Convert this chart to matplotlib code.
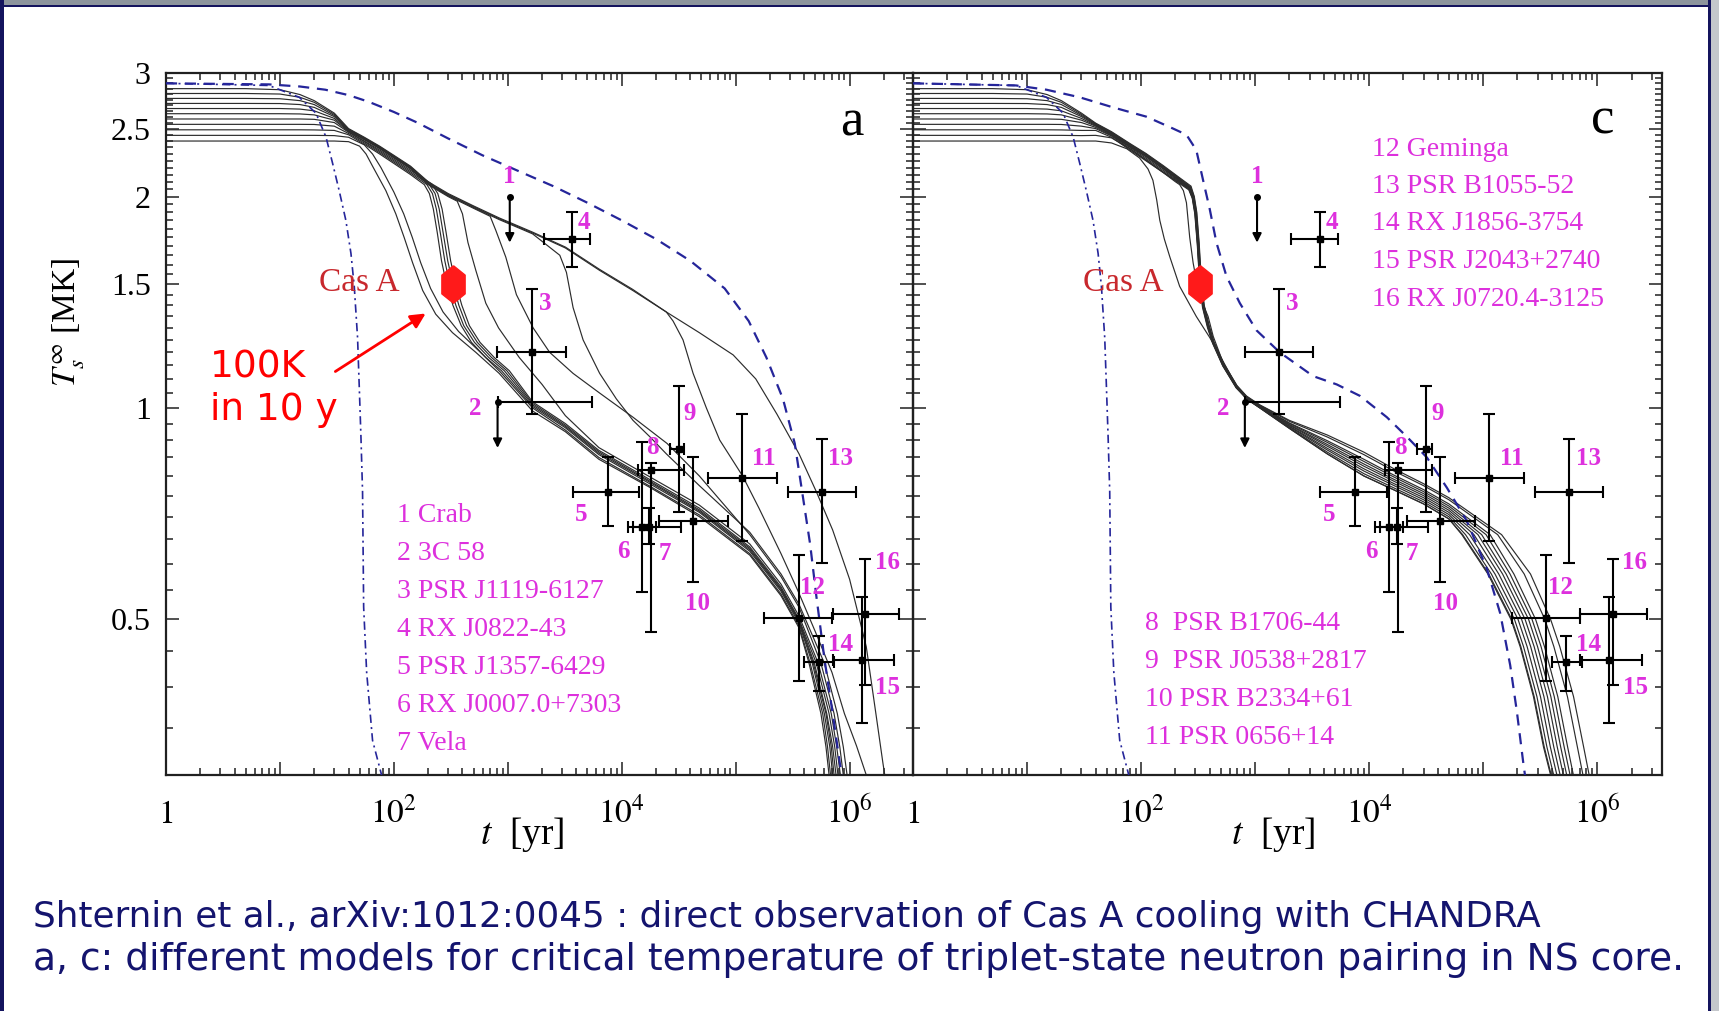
import matplotlib
matplotlib.use('Agg')
import matplotlib.pyplot as plt
from matplotlib.ticker import LogLocator, FixedLocator, FixedFormatter, NullFormatter
from matplotlib.patches import Rectangle, FancyArrowPatch

W, H = 1719, 1011

plt.rcParams['font.family'] = ['Liberation Serif', 'DejaVu Serif']
plt.rcParams['mathtext.fontset'] = 'stix'

# ---------------- observed sources: age [yr], T_s^inf [MK]
src_name = ['Crab', '3C 58', 'PSR J1119-6127', 'RX J0822-43', 'PSR J1357-6429',
            'RX J0007.0+7303', 'Vela', 'PSR B1706-44', 'PSR J0538+2817',
            'PSR B2334+61', 'PSR 0656+14', 'Geminga', 'PSR B1055-52',
            'RX J1856-3754', 'PSR J2043+2740', 'RX J0720.4-3125']
src_t = [1040, 813, 1634, 3690, 7500, 15000, 17500, 18000, 31600, 42000,
         113500, 357000, 568000, 535000, 1280000, 1370000]
src_T = [2.0, 1.02, 1.20, 1.74, 0.76, 0.677, 0.677, 0.816, 0.873, 0.691,
         0.795, 0.502, 0.759, 0.434, 0.438, 0.508]
src_tlo = [1040, 813, 811, 2070, 3700, 11300, 12500, 13800, 26500, 21400,
           56800, 178600, 285800, 400000, 710000, 710000]
src_thi = [1040, 5530, 3210, 5310, 14200, 20000, 33000, 35500, 35500, 85100,
           229000, 700000, 1135000, 735000, 2470000, 2730000]
src_Tlo = [1.72, 0.877, 0.98, 1.59, 0.679, 0.547, 0.64, 0.48, 0.711, 0.565,
           0.646, 0.408, 0.602, 0.395, 0.356, 0.403]
src_Thi = [2.0, 1.02, 1.477, 1.90, 0.852, 0.895, 0.72, 0.834, 1.074, 0.852,
           0.979, 0.617, 0.902, 0.474, 0.538, 0.61]
src_uplim = [1, 1, 0, 0, 0, 0, 0, 0, 0, 0, 0, 0, 0, 0, 0, 0]

casA_t, casA_T = 330, 1.50

# ---------------- cooling curves: early (isothermal) part, common to both panels
flat_t = [1, 5, 10, 15, 20, 30]
flat_T = [[2.400, 2.400, 2.400, 2.400, 2.400, 2.400],
          [2.445, 2.445, 2.445, 2.445, 2.445, 2.443],
          [2.490, 2.490, 2.490, 2.490, 2.489, 2.485],
          [2.535, 2.535, 2.535, 2.535, 2.534, 2.520],
          [2.580, 2.580, 2.580, 2.580, 2.577, 2.550],
          [2.625, 2.625, 2.625, 2.623, 2.615, 2.570],
          [2.670, 2.670, 2.670, 2.665, 2.650, 2.585],
          [2.715, 2.715, 2.714, 2.705, 2.680, 2.600],
          [2.760, 2.760, 2.757, 2.740, 2.705, 2.610],
          [2.805, 2.805, 2.800, 2.770, 2.725, 2.620],
          [2.850, 2.850, 2.840, 2.795, 2.740, 2.630]]

# panel a, later evolution of each curve
a_t = [[40, 50, 57, 65, 85, 104, 123, 146, 179, 233, 327, 524, 840, 1650, 3200, 6300, 17800, 48000, 133000, 250000, 360000, 440000, 560000, 620000, 660000],
       [40, 55, 65, 77, 100, 122, 145, 172, 210, 270, 370, 560, 860, 1650, 3200, 6300, 17800, 48000, 133000, 250000, 360000, 450000, 580000, 640000, 680000],
       [40, 55, 75, 100, 140, 185, 205, 222, 240, 262, 290, 330, 390, 480, 640, 880, 1650, 3200, 6300, 17800, 48000, 133000, 250000, 360000, 470000, 600000, 670000, 710000],
       [40, 55, 75, 100, 140, 195, 218, 236, 255, 280, 310, 350, 410, 510, 680, 930, 1650, 3200, 6300, 17800, 48000, 133000, 250000, 360000, 480000, 620000, 690000, 730000],
       [40, 55, 75, 100, 140, 205, 230, 250, 270, 297, 330, 372, 435, 540, 720, 980, 1650, 3200, 6300, 17800, 48000, 133000, 250000, 360000, 490000, 630000, 710000, 760000],
       [40, 55, 75, 100, 140, 215, 243, 265, 287, 315, 350, 395, 460, 570, 760, 1030, 1650, 3200, 6300, 17800, 48000, 133000, 250000, 360000, 510000, 660000, 740000, 790000],
       [40, 55, 75, 100, 140, 200, 300, 360, 400, 447, 524, 641, 830, 1260, 2000, 3200, 6300, 17800, 48000, 133000, 250000, 360000, 530000, 690000, 770000, 830000],
       [40, 55, 75, 100, 140, 200, 300, 500, 700, 785, 960, 1190, 1670, 2330, 3740, 6400, 12560, 25000, 48000, 133000, 250000, 360000, 560000, 730000, 820000, 880000],
       [40, 55, 75, 100, 140, 200, 300, 500, 840, 1650, 2860, 3270, 3740, 4580, 6400, 8970, 12560, 17620, 24660, 48000, 133000, 250000, 360000, 600000, 780000, 880000, 950000],
       [40, 55, 75, 100, 140, 200, 300, 500, 840, 1650, 3200, 6400, 12500, 24600, 28200, 34500, 42300, 55300, 72400, 95000, 115000, 160000, 250000, 350000, 500000, 700000, 900000, 1150000, 1400000, 1500000],
       [40, 55, 75, 100, 140, 200, 300, 500, 840, 1650, 3200, 6400, 12500, 24600, 48000, 95000, 150000, 230000, 360000, 510000, 710000, 1000000, 1400000, 1700000, 1960000, 2100000]]
a_T = [[2.395, 2.36, 2.30, 2.21, 2.04, 1.89, 1.75, 1.61, 1.47, 1.36, 1.28, 1.20, 1.12, 0.99, 0.925, 0.845, 0.77, 0.70, 0.617, 0.54, 0.486, 0.433, 0.367, 0.329, 0.30],
       [2.43, 2.37, 2.30, 2.20, 2.03, 1.89, 1.75, 1.61, 1.48, 1.37, 1.285, 1.205, 1.125, 1.0, 0.93, 0.85, 0.773, 0.704, 0.62, 0.543, 0.489, 0.433, 0.367, 0.329, 0.30],
       [2.45, 2.375, 2.30, 2.23, 2.15, 2.08, 2.02, 1.92, 1.78, 1.62, 1.50, 1.40, 1.31, 1.24, 1.18, 1.13, 1.005, 0.937, 0.858, 0.779, 0.71, 0.625, 0.548, 0.493, 0.433, 0.367, 0.329, 0.30],
       [2.46, 2.385, 2.31, 2.24, 2.16, 2.08, 2.02, 1.92, 1.78, 1.62, 1.50, 1.40, 1.31, 1.24, 1.18, 1.13, 1.01, 0.941, 0.862, 0.783, 0.713, 0.628, 0.551, 0.496, 0.433, 0.367, 0.329, 0.30],
       [2.47, 2.395, 2.32, 2.25, 2.17, 2.08, 2.02, 1.92, 1.78, 1.62, 1.50, 1.40, 1.31, 1.24, 1.18, 1.13, 1.015, 0.945, 0.866, 0.786, 0.716, 0.631, 0.553, 0.498, 0.433, 0.367, 0.329, 0.30],
       [2.475, 2.40, 2.33, 2.26, 2.18, 2.085, 2.02, 1.92, 1.78, 1.62, 1.50, 1.40, 1.31, 1.24, 1.18, 1.13, 1.02, 0.95, 0.87, 0.79, 0.72, 0.634, 0.556, 0.50, 0.433, 0.367, 0.329, 0.30],
       [2.48, 2.41, 2.34, 2.27, 2.19, 2.08, 2.00, 1.97, 1.89, 1.72, 1.57, 1.41, 1.30, 1.18, 1.08, 0.975, 0.878, 0.797, 0.727, 0.64, 0.561, 0.505, 0.433, 0.367, 0.329, 0.30],
       [2.485, 2.415, 2.345, 2.275, 2.195, 2.085, 2.005, 1.925, 1.875, 1.79, 1.64, 1.45, 1.30, 1.20, 1.12, 1.05, 0.97, 0.89, 0.80, 0.66, 0.575, 0.52, 0.433, 0.367, 0.329, 0.30],
       [2.49, 2.42, 2.35, 2.28, 2.20, 2.09, 2.01, 1.93, 1.855, 1.77, 1.65, 1.56, 1.39, 1.25, 1.12, 1.03, 0.96, 0.91, 0.86, 0.775, 0.665, 0.58, 0.525, 0.433, 0.367, 0.329, 0.30],
       [2.495, 2.425, 2.355, 2.285, 2.205, 2.095, 2.015, 1.935, 1.86, 1.775, 1.69, 1.57, 1.47, 1.37, 1.33, 1.25, 1.12, 1.00, 0.90, 0.84, 0.80, 0.72, 0.62, 0.55, 0.48, 0.42, 0.367, 0.33, 0.30, 0.29],
       [2.50, 2.43, 2.36, 2.29, 2.21, 2.10, 2.02, 1.94, 1.865, 1.78, 1.695, 1.575, 1.475, 1.37, 1.28, 1.19, 1.10, 0.98, 0.86, 0.76, 0.67, 0.57, 0.457, 0.367, 0.312, 0.29]]

# panel c: evolution up to ~840 yr
c_t = [[40, 55, 75, 97, 115, 127, 137, 146, 160, 179, 218, 305, 400, 524, 686, 840],
       [40, 55, 80, 110, 156, 200, 218, 235, 250, 267, 286, 310, 340, 387, 429, 524, 686, 840],
       [40, 55, 80, 110, 156, 220, 262, 281, 296, 311, 326, 346, 383, 425, 520, 682, 840],
       [40, 55, 80, 110, 156, 220, 263, 282, 297, 312, 327, 347, 384, 426, 521, 683, 840],
       [40, 55, 80, 110, 156, 220, 264, 283, 298, 313, 328, 348, 385, 427, 522, 684, 840],
       [40, 55, 80, 110, 156, 220, 265, 284, 299, 314, 329, 349, 386, 428, 523, 685, 840],
       [40, 55, 80, 110, 156, 220, 266, 285, 300, 315, 330, 350, 387, 429, 524, 686, 840],
       [40, 55, 80, 110, 156, 220, 268, 287, 302, 317, 332, 352, 389, 431, 526, 688, 840],
       [40, 55, 80, 110, 156, 220, 270, 289, 304, 319, 334, 354, 391, 433, 528, 690, 840],
       [40, 55, 80, 110, 156, 220, 272, 291, 306, 321, 336, 356, 393, 435, 530, 692, 840],
       [40, 55, 80, 110, 156, 220, 274, 293, 308, 323, 338, 358, 395, 437, 532, 694, 840]]
c_T = [[2.40, 2.385, 2.34, 2.27, 2.19, 2.11, 1.98, 1.85, 1.74, 1.64, 1.49, 1.35, 1.26, 1.165, 1.075, 1.03],
       [2.445, 2.425, 2.34, 2.255, 2.165, 2.10, 2.08, 2.04, 1.96, 1.75, 1.61, 1.50, 1.42, 1.35, 1.265, 1.16, 1.072, 1.03],
       [2.485, 2.43, 2.33, 2.25, 2.165, 2.085, 2.045, 1.99, 1.89, 1.71, 1.51, 1.39, 1.30, 1.235, 1.148, 1.068, 1.031],
       [2.50, 2.44, 2.34, 2.26, 2.17, 2.09, 2.05, 1.99, 1.895, 1.715, 1.515, 1.395, 1.305, 1.237, 1.149, 1.069, 1.032],
       [2.51, 2.445, 2.35, 2.27, 2.18, 2.095, 2.052, 1.995, 1.897, 1.717, 1.517, 1.397, 1.307, 1.238, 1.15, 1.07, 1.033],
       [2.52, 2.45, 2.355, 2.28, 2.19, 2.10, 2.055, 1.997, 1.90, 1.72, 1.52, 1.40, 1.31, 1.24, 1.151, 1.071, 1.034],
       [2.525, 2.455, 2.36, 2.285, 2.195, 2.105, 2.057, 2.0, 1.90, 1.72, 1.52, 1.40, 1.31, 1.24, 1.152, 1.072, 1.035],
       [2.53, 2.46, 2.365, 2.29, 2.20, 2.11, 2.06, 2.0, 1.90, 1.72, 1.52, 1.40, 1.31, 1.24, 1.153, 1.073, 1.036],
       [2.535, 2.465, 2.37, 2.295, 2.205, 2.115, 2.062, 2.0, 1.90, 1.72, 1.52, 1.40, 1.31, 1.24, 1.154, 1.074, 1.037],
       [2.54, 2.47, 2.375, 2.30, 2.21, 2.12, 2.065, 2.0, 1.90, 1.72, 1.52, 1.40, 1.31, 1.24, 1.155, 1.075, 1.038],
       [2.545, 2.475, 2.38, 2.305, 2.215, 2.125, 2.07, 2.0, 1.90, 1.72, 1.52, 1.40, 1.31, 1.24, 1.156, 1.076, 1.04]]
# panel c: neutrino-cooling band
c_band_t = [1100, 2000, 4300, 9000, 16300, 30000, 50000]
c_band_T = [[1.00, 0.935, 0.86, 0.80, 0.765, 0.73, 0.695],
            [1.00, 0.935, 0.86, 0.80, 0.765, 0.73, 0.695],
            [1.001, 0.937, 0.865, 0.806, 0.77, 0.735, 0.70],
            [1.002, 0.94, 0.871, 0.813, 0.776, 0.74, 0.705],
            [1.003, 0.942, 0.876, 0.819, 0.781, 0.745, 0.71],
            [1.004, 0.945, 0.882, 0.826, 0.787, 0.75, 0.715],
            [1.005, 0.947, 0.887, 0.832, 0.792, 0.755, 0.72],
            [1.006, 0.95, 0.893, 0.839, 0.798, 0.76, 0.725],
            [1.007, 0.952, 0.898, 0.845, 0.803, 0.765, 0.73],
            [1.009, 0.957, 0.909, 0.858, 0.814, 0.775, 0.74],
            [1.01, 0.96, 0.915, 0.865, 0.82, 0.78, 0.745]]
# panel c: photon-cooling tails (age at which each curve reaches c_tail_T)
c_tail_T = [0.66, 0.58, 0.50, 0.457, 0.388, 0.329, 0.30]
c_tail_t = [[65000, 110000, 175000, 211000, 276000, 338000, 390000],
            [66000, 112000, 178000, 214000, 280000, 343000, 395000],
            [70000, 118000, 188000, 226000, 296000, 362000, 415000],
            [76000, 127000, 202000, 243000, 318000, 388000, 443000],
            [83000, 137000, 217000, 261000, 341000, 416000, 473000],
            [90000, 148000, 233000, 280000, 366000, 446000, 505000],
            [97000, 159000, 250000, 300000, 392000, 478000, 540000],
            [106000, 172000, 268000, 322000, 420000, 513000, 578000],
            [115000, 186000, 288000, 345000, 451000, 550000, 618000],
            [134000, 229000, 347000, 417000, 548000, 670000, 750000],
            [145000, 260000, 390000, 470000, 620000, 760000, 850000]]

# blue reference curves
dd_t = [1, 8, 14.8, 20.7, 25.4, 29, 33.1, 37.9, 42, 44.9, 48, 49.7, 51.4, 53.1, 54.3, 57.7, 65, 78]
dd_T = [2.90, 2.88, 2.77, 2.63, 2.43, 2.23, 2.04, 1.85, 1.66, 1.49, 1.26, 1.07, 0.91, 0.76, 0.52, 0.42, 0.336, 0.30]
a_dash_t = [1, 8, 15, 25, 40, 60, 100, 160, 300, 600, 1200, 2500, 5000, 10000, 20000, 40000,
            80000, 130000, 186000, 260000, 330000, 450000, 510000, 600000, 710000, 820000, 870000]
a_dash_T = [2.90, 2.89, 2.87, 2.84, 2.79, 2.73, 2.64, 2.55, 2.42, 2.29, 2.18, 2.07, 1.96, 1.85, 1.74, 1.62,
            1.48, 1.33, 1.18, 1.03, 0.89, 0.64, 0.54, 0.44, 0.367, 0.312, 0.295]
c_dash_t = [1, 8, 14.8, 29, 56.8, 111, 191, 250, 305, 350, 400, 458, 561, 735, 1028, 1644, 3228, 5210,
            8340, 14300, 21400, 32100, 48000, 72000, 107700, 141000, 172600, 197200, 226000, 236000]
c_dash_T = [2.90, 2.88, 2.84, 2.77, 2.68, 2.60, 2.50, 2.45, 2.33, 2.11, 1.92, 1.72, 1.54, 1.41, 1.29, 1.20, 1.11, 1.08,
            1.04, 0.97, 0.91, 0.85, 0.77, 0.69, 0.59, 0.51, 0.43, 0.37, 0.31, 0.295]

# axis ticks
ytick_major = [0.5, 1, 1.5, 2, 2.5, 3]
ytick_lab = ['0.5', '1', '1.5', '2', '2.5', '3']
ytick_minor = [0.30, 0.35, 0.40, 0.45, 0.55, 0.60, 0.65, 0.70, 0.75, 0.80, 0.85, 0.90, 0.95,
               1.05, 1.10, 1.15, 1.20, 1.25, 1.30, 1.35, 1.40, 1.45, 1.55, 1.60, 1.65, 1.70,
               1.75, 1.80, 1.85, 1.90, 1.95, 2.05, 2.10, 2.15, 2.20, 2.25, 2.30, 2.35, 2.40,
               2.45, 2.55, 2.60, 2.65, 2.70, 2.75, 2.80, 2.85, 2.90, 2.95]
xlab_pos = [1, 1e2, 1e4, 1e6]
xlab_txt = [r'$1$', r'$10^2$', r'$10^4$', r'$10^6$']

# label offsets for the source numbers, pixels (right, down)
num_off = {1: (0, -20), 2: (-22, 7), 3: (13, -49), 4: (12, -17), 5: (-26, 23),
           6: (-18, 25), 7: (15, 27), 8: (2, -22), 9: (11, -36), 10: (5, 83),
           11: (22, -19), 12: (14, -31), 13: (19, -34), 14: (22, -18),
           15: (26, 28), 16: (22, -52)}

MAG = '#dd30dd'
CURVE = '#2c2c2c'
BLUE = '#25259a'

fig = plt.figure(figsize=(W / 100, H / 100), dpi=100)
fig.patch.set_facecolor('white')


def box(x0, y0, x1, y1, color):
    # rectangle given in slide pixels measured from the top-left corner
    fig.add_artist(Rectangle((x0 / W, 1 - y1 / H), (x1 - x0) / W, (y1 - y0) / H,
                             transform=fig.transFigure, color=color, lw=0, zorder=0))


def ftext(x, y, s, **kw):
    return fig.text(x / W, 1 - y / H, s, **kw)


# slide frame
box(0, 0, W, 5, '#8d959d')
box(0, 5, W, 7, '#14145e')
box(0, 0, 4, H, '#14145e')
box(1708, 0, 1711, H, '#14145e')
box(1711, 0, W, H, '#c4c7cb')

axL = fig.add_axes([166 / W, 1 - 775 / H, 747 / W, 702 / H])
axR = fig.add_axes([913 / W, 1 - 775 / H, 749 / W, 702 / H])


def setup(ax, xmax, ylabels):
    ax.set_xscale('log')
    ax.set_yscale('log')
    ax.set_xlim(1, xmax)
    ax.set_ylim(0.3, 3)
    ax.patch.set_alpha(0)
    ax.xaxis.set_major_locator(LogLocator(base=10, numticks=20))
    ax.xaxis.set_minor_locator(LogLocator(base=10, subs=range(2, 10), numticks=20))
    ax.xaxis.set_major_formatter(NullFormatter())
    ax.xaxis.set_minor_formatter(NullFormatter())
    ax.yaxis.set_major_locator(FixedLocator(ytick_major))
    ax.yaxis.set_minor_locator(FixedLocator(ytick_minor))
    ax.yaxis.set_minor_formatter(NullFormatter())
    if ylabels:
        ax.yaxis.set_major_formatter(FixedFormatter(ytick_lab))
    else:
        ax.yaxis.set_major_formatter(NullFormatter())
    ax.tick_params(which='both', direction='in', top=True, right=True,
                   width=1.1, color='#202020')
    ax.tick_params(which='major', length=9.5, labelsize=23, pad=11)
    ax.tick_params(which='minor', length=5)
    for s in ax.spines.values():
        s.set_linewidth(1.6)
        s.set_color('#202020')
    for xp, lab in zip(xlab_pos, xlab_txt):
        ax.text(xp, -0.068, lab, transform=ax.get_xaxis_transform(),
                ha='center', va='baseline', fontsize=24)


def draw_sources(ax):
    for i in range(len(src_t)):
        t, T = src_t[i], src_T[i]
        if src_uplim[i]:
            ax.plot([t], [T], 'o', ms=4, color='k', zorder=5)
            ax.annotate('', xy=(t, src_Tlo[i]), xytext=(t, T),
                        arrowprops=dict(arrowstyle='-|>', color='k', lw=1.5,
                                        mutation_scale=13, shrinkA=0, shrinkB=0),
                        zorder=5)
            if src_thi[i] > t:
                ax.errorbar([t], [T], xerr=[[0], [src_thi[i] - t]], fmt='none',
                            ecolor='k', elinewidth=1.5, capsize=4, capthick=1.5, zorder=5)
        else:
            ax.errorbar([t], [T], xerr=[[t - src_tlo[i]], [src_thi[i] - t]],
                        yerr=[[T - src_Tlo[i]], [src_Thi[i] - T]], fmt='s', ms=4,
                        color='k', ecolor='k', elinewidth=1.5, capsize=4,
                        capthick=1.5, zorder=5)
        dx, dy = num_off[i + 1]
        ax.annotate(str(i + 1), (t, T), xytext=(dx, -dy), textcoords='offset pixels',
                    ha='center', va='center', fontsize=18, fontweight='bold',
                    color=MAG, zorder=6)


def draw_casA(ax):
    hexa = [(0, 1), (0.62, 0.5), (0.62, -0.5), (0, -1), (-0.62, -0.5), (-0.62, 0.5), (0, 1)]
    ax.plot([casA_t], [casA_T], marker=hexa, ms=27, color='#ff1a1a', mec='#ff1a1a',
            ls='none', zorder=7)


setup(axL, 3.6e6, True)
setup(axR, 3.7e6, False)

# panel a
for k in range(len(flat_T)):
    axL.plot(flat_t + a_t[k], flat_T[k] + a_T[k], color=CURVE, lw=0.85, zorder=2)
axL.plot(a_dash_t, a_dash_T, color=BLUE, lw=1.6, dashes=(5, 3.5), zorder=3)
axL.plot(dd_t, dd_T, color=BLUE, lw=1.2, dashes=(5, 2.5, 1.2, 2.5), zorder=3)
draw_sources(axL)
draw_casA(axL)

# panel c
for k in range(len(flat_T)):
    tt = flat_t + c_t[k] + c_band_t + c_tail_t[k]
    TT = flat_T[k] + c_T[k] + c_band_T[k] + c_tail_T
    axR.plot(tt, TT, color=CURVE, lw=0.85, zorder=2)
axR.plot(c_dash_t, c_dash_T, color=BLUE, lw=1.6, dashes=(5, 3.5), zorder=3)
axR.plot(dd_t, dd_T, color=BLUE, lw=1.2, dashes=(5, 2.5, 1.2, 2.5), zorder=3)
draw_sources(axR)
draw_casA(axR)

# axis titles
ftext(522, 835, r'$t$  [yr]', fontsize=27, ha='center', va='center')
ftext(1273, 835, r'$t$  [yr]', fontsize=27, ha='center', va='center')
ftext(68, 322, r'$T_s^{\infty}$ [MK]', fontsize=24, rotation=90, ha='center', va='center')

# panel letters
ftext(852, 123, 'a', fontsize=38, ha='center', va='center')
ftext(1603, 120, 'c', fontsize=38, ha='center', va='center')

# Cas A labels
ftext(359, 283, 'Cas A', fontsize=24, color='#c8282d', ha='center', va='center')
ftext(1123, 283, 'Cas A', fontsize=24, color='#c8282d', ha='center', va='center')

# source lists
for i in range(7):
    ftext(397, 515 + 38.1 * i, '%d %s' % (i + 1, src_name[i]), fontsize=20,
          color=MAG, ha='left', va='center')
for j, i in enumerate(range(7, 11)):
    sep = '  ' if i < 9 else ' '
    ftext(1145, 623 + 38 * j, '%d%s%s' % (i + 1, sep, src_name[i]), fontsize=20,
          color=MAG, ha='left', va='center')
for j, i in enumerate(range(11, 16)):
    ftext(1372, 149 + 37.5 * j, '%d %s' % (i + 1, src_name[i]), fontsize=20,
          color=MAG, ha='left', va='center')

# "100K in 10 y" note with arrow
ftext(210, 377, '100K', fontsize=27, color='#ff0000', family='DejaVu Sans', va='baseline')
ftext(210, 420, 'in 10 y', fontsize=27, color='#ff0000', family='DejaVu Sans', va='baseline')
fig.add_artist(FancyArrowPatch(
    (333 / W, 1 - 373 / H), (428 / W, 1 - 312 / H), transform=fig.transFigure,
    arrowstyle='-|>', mutation_scale=22, color='#ff0000', lw=2))

# caption, each line stretched to its width on the slide
cap1 = ftext(33, 927, 'Shternin et al., arXiv:1012:0045 : direct observation of Cas A cooling with CHANDRA',
             fontsize=23, family='DejaVu Sans', color='#14146e', va='baseline')
cap2 = ftext(33, 970, 'a, c: different models for critical temperature of triplet-state neutron pairing in NS core.',
             fontsize=23, family='DejaVu Sans', color='#14146e', va='baseline')
fig.canvas.draw()
for c, width in ((cap1, 1510), (cap2, 1650)):
    c.set_fontsize(23 * width / c.get_window_extent().width)

fig.savefig('out.png', dpi=100)
